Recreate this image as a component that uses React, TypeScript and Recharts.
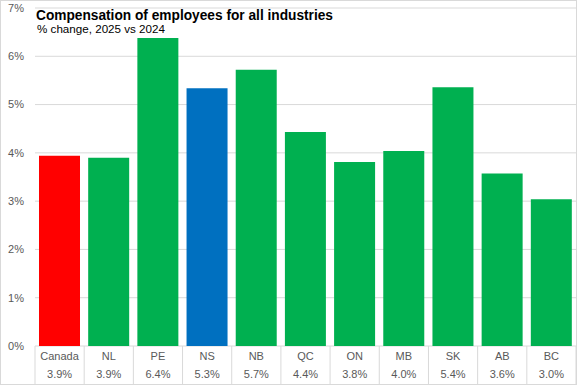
import { BarChart, Bar, XAxis, YAxis, CartesianGrid, Cell } from 'recharts';

const regions = ['Canada', 'NL', 'PE', 'NS', 'NB', 'QC', 'ON', 'MB', 'SK', 'AB', 'BC'];
const changes = [3.94, 3.9, 6.38, 5.34, 5.72, 4.43, 3.81, 4.04, 5.36, 3.57, 3.04];
const yTicks = [0, 1, 2, 3, 4, 5, 6, 7];

const colors = {
  canada: '#FF0000',
  ns: '#0070C0',
  other: '#00B050',
  grid: '#D9D9D9',
  text: '#595959',
};

const data = regions.map((region, i) => ({ region, value: changes[i] }));

const W = 577;
const H = 385;
const font = '"Liberation Sans", Arial, sans-serif';

function barColor(region: string) {
  if (region === 'Canada') return colors.canada;
  if (region === 'NS') return colors.ns;
  return colors.other;
}

// category label + value, with the table-like separators
function TableTick(props: any) {
  const { x, y, payload, index } = props;
  const half = payload.offset || 24.6;
  const value = changes[index];
  const last = index === regions.length - 1;
  return (
    <g>
      <line x1={x - half} x2={x - half} y1={y} y2={H} stroke={colors.grid} />
      {last && <line x1={x + half} x2={x + half} y1={y} y2={H} stroke={colors.grid} />}
      <text x={x} y={y + 14} textAnchor="middle" fontSize={11} fill={colors.text} fontFamily={font}>
        {payload.value}
      </text>
      <text x={x} y={y + 32} textAnchor="middle" fontSize={11} fill={colors.text} fontFamily={font}>
        {value.toFixed(1)}%
      </text>
    </g>
  );
}

export default function App() {
  return (
    <div style={{ position: 'absolute', left: 0, top: 0, width: W, height: H, background: '#fff' }}>
      <BarChart
        width={W}
        height={H}
        data={data}
        margin={{ top: 8, right: 1, left: 0, bottom: 0 }}
        barCategoryGap={4}
      >
        <CartesianGrid vertical={false} stroke={colors.grid} />
        <XAxis
          dataKey="region"
          interval={0}
          height={39}
          tickLine={false}
          axisLine={false}
          tickSize={0}
          tickMargin={0}
          tick={<TableTick />}
        />
        <YAxis
          width={35}
          domain={[0, 7]}
          ticks={yTicks}
          tickLine={false}
          axisLine={false}
          tickSize={6}
          tickMargin={5}
          tickFormatter={(v) => `${v}%`}
          tick={{ fontSize: 11, fill: colors.text, fontFamily: font }}
        />
        <Bar dataKey="value" isAnimationActive={false}>
          {data.map((d) => (
            <Cell key={d.region} fill={barColor(d.region)} />
          ))}
        </Bar>
      </BarChart>
      <svg
        width={W}
        height={H}
        style={{ position: 'absolute', left: 0, top: 0, pointerEvents: 'none' }}
      >
        <rect x={0.5} y={0.5} width={W - 1} height={H - 1} fill="none" stroke={colors.grid} />
        <text
          x={36}
          y={20}
          fontSize={14}
          fontWeight="bold"
          fill="#000"
          fontFamily={font}
          textLength={297}
          lengthAdjust="spacingAndGlyphs"
        >
          Compensation of employees for all industries
        </text>
        <text
          x={37}
          y={33}
          fontSize={11.5}
          fill="#000"
          fontFamily={font}
          textLength={128}
          lengthAdjust="spacingAndGlyphs"
        >
          % change, 2025 vs 2024
        </text>
      </svg>
    </div>
  );
}
